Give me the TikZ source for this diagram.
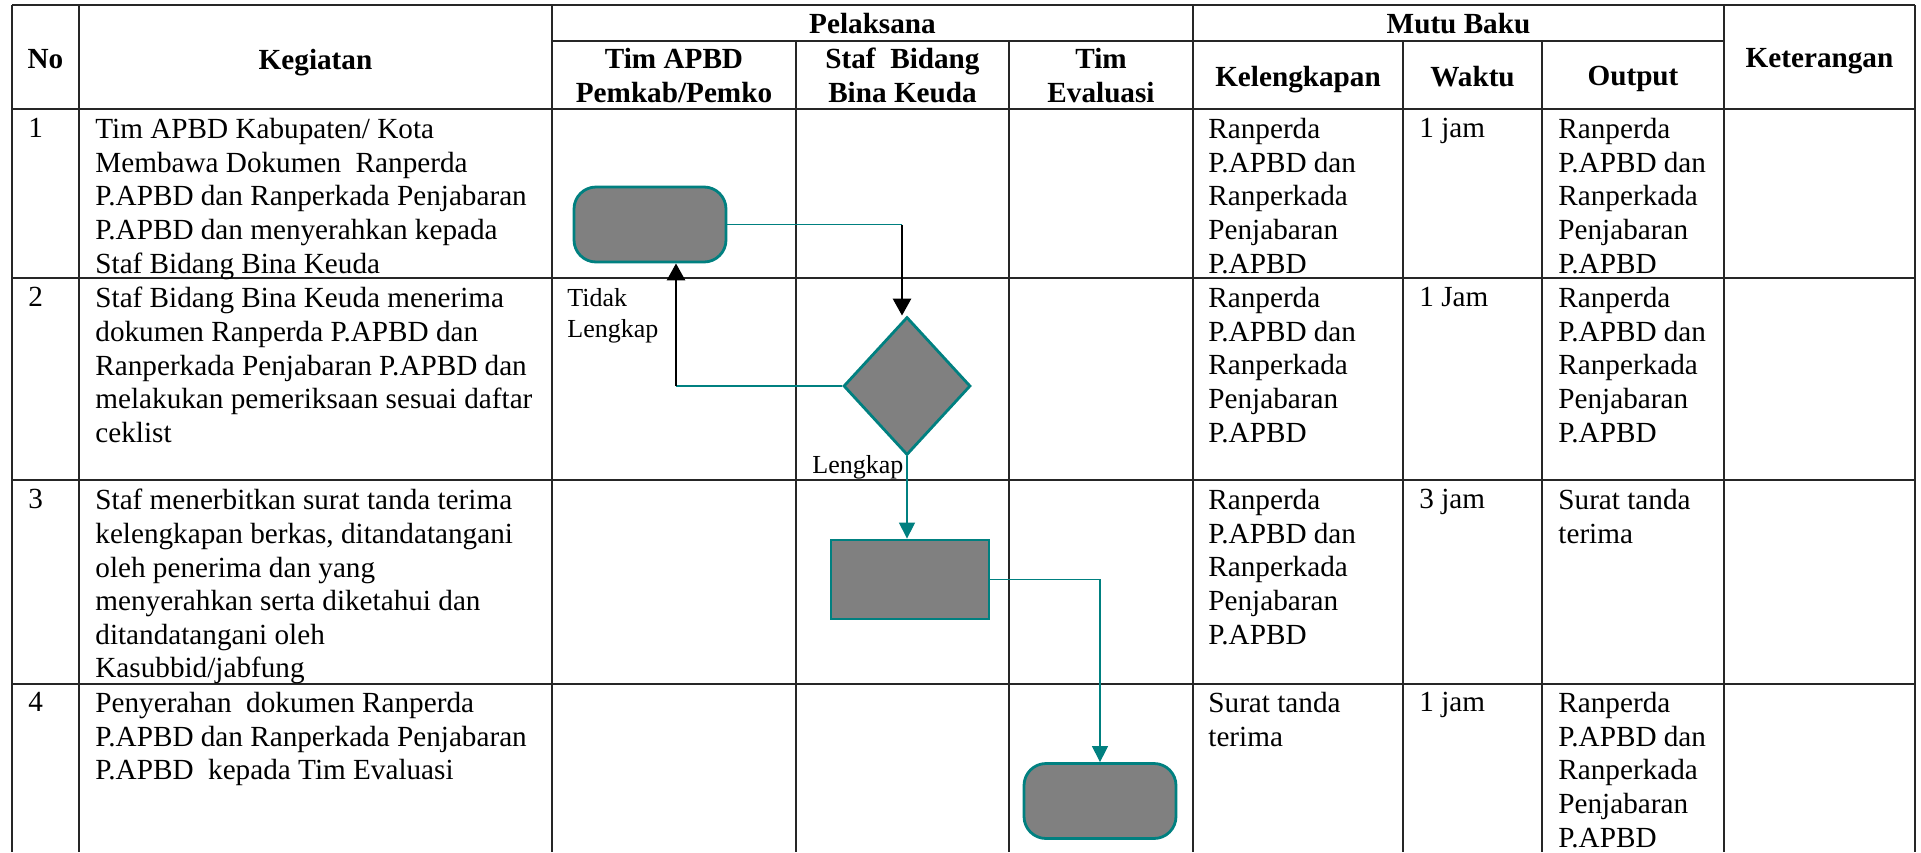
\documentclass[tikz,border=0pt]{standalone}
\usepackage{fontspec}
\setmainfont{Liberation Serif}
\usetikzlibrary{arrows.meta,shapes.geometric,positioning}

\newcommand{\cellfont}{\fontsize{14.6}{16.8}\selectfont}
\newcommand{\headfont}{\fontsize{14.6}{17}\selectfont\bfseries}
\newcommand{\notefont}{\fontsize{13}{15.5}\selectfont}

\begin{document}
\begin{tikzpicture}[x=0.5pt, y=-0.5pt,
    tabline/.style={black!85, line width=1pt},
    cell/.style={anchor=north west, align=left, inner sep=0pt, font=\cellfont},
    head/.style={anchor=north, align=center, inner sep=0pt, font=\headfont},
    note/.style={anchor=north west, align=left, inner sep=0pt, font=\notefont},
    terminal/.style={draw=teal, line width=1.4pt, fill=gray, rounded corners=11pt,
      minimum width=76pt, minimum height=37.5pt, inner sep=0pt},
    process/.style={draw=teal, line width=1.4pt, fill=gray,
      minimum width=79pt, minimum height=39.5pt, inner sep=0pt},
    decision/.style={diamond, draw=teal, line width=1.4pt, fill=gray,
      minimum width=63.5pt, minimum height=69pt, inner sep=0pt},
    flow/.style={teal, line width=0.6pt},
    flowarrow/.style={teal, line width=0.6pt, -{Triangle[width=8pt,length=8pt]}},
    backarrow/.style={black, line width=1.4pt, -{Triangle[width=9pt,length=8.5pt]}}]
    \fill[white] (0,0) rectangle (1921,852);
    \useasboundingbox (0,0) rectangle (1921,852);

    % Table rules
    \foreach \y in {5,109,278,480,684} \draw[tabline] (12,\y) -- (1915,\y);
    \draw[tabline] (552,41) -- (1724,41);
    \foreach \x in {12,79,552,1193,1724,1915} \draw[tabline] (\x,5) -- (\x,852);
    \foreach \x in {796,1009,1403,1542} \draw[tabline] (\x,41) -- (\x,852);

    % Header
    \node[head] (hNo)   at (45.5,49)   {No};
    \node[head] (hKeg)  at (315.5,49)  {Kegiatan};
    \node[head] (hPel)  at (872.5,13)  {Pelaksana};
    \node[head] (hTim)  at (674,48)    {Tim APBD\\Pemkab/Pemko};
    \node[head] (hStaf) at (902.5,48)  {Staf~ Bidang\\Bina Keuda};
    \node[head] (hEval) at (1101,48)   {Tim\\Evaluasi};
    \node[head] (hMutu) at (1458.5,13) {Mutu Baku};
    \node[head] (hLeng) at (1298,66)   {Kelengkapan};
    \node[head] (hWak)  at (1472.5,66) {Waktu};
    \node[head] (hOut)  at (1633,66)   {Output};
    \node[head] (hKet)  at (1819.5,48) {Keterangan};

    % Row 1
    \node[cell] (no1)  at (28,118)   {1};
    \node[cell] (keg1) at (95,118)   {Tim APBD Kabupaten/ Kota\\Membawa Dokumen~ Ranperda\\P.APBD dan Ranperkada Penjabaran\\P.APBD dan menyerahkan kepada\\Staf Bidang Bina Keuda};
    \node[cell] (kel1) at (1208,118) {Ranperda\\P.APBD dan\\Ranperkada\\Penjabaran\\P.APBD};
    \node[cell] (wak1) at (1419,118) {1 jam};
    \node[cell] (out1) at (1558,118) {Ranperda\\P.APBD dan\\Ranperkada\\Penjabaran\\P.APBD};

    % Row 2
    \node[cell] (no2)  at (28,287)   {2};
    \node[cell] (keg2) at (95,287)   {Staf Bidang Bina Keuda menerima\\dokumen Ranperda P.APBD dan\\Ranperkada Penjabaran P.APBD dan\\melakukan pemeriksaan sesuai daftar\\ceklist};
    \node[cell] (kel2) at (1208,287) {Ranperda\\P.APBD dan\\Ranperkada\\Penjabaran\\P.APBD};
    \node[cell] (wak2) at (1419,287) {1 Jam};
    \node[cell] (out2) at (1558,287) {Ranperda\\P.APBD dan\\Ranperkada\\Penjabaran\\P.APBD};

    % Row 3
    \node[cell] (no3)  at (28,489)   {3};
    \node[cell] (keg3) at (95,489)   {Staf menerbitkan surat tanda terima\\kelengkapan berkas, ditandatangani\\oleh penerima dan yang\\menyerahkan serta diketahui dan\\ditandatangani oleh\\Kasubbid/jabfung};
    \node[cell] (kel3) at (1208,489) {Ranperda\\P.APBD dan\\Ranperkada\\Penjabaran\\P.APBD};
    \node[cell] (wak3) at (1419,489) {3 jam};
    \node[cell] (out3) at (1558,489) {Surat tanda\\terima};

    % Row 4
    \node[cell] (no4)  at (28,692)   {4};
    \node[cell] (keg4) at (95,692)   {Penyerahan~ dokumen Ranperda\\P.APBD dan Ranperkada Penjabaran\\P.APBD~ kepada Tim Evaluasi};
    \node[cell] (kel4) at (1208,692) {Surat tanda\\terima};
    \node[cell] (wak4) at (1419,692) {1 jam};
    \node[cell] (out4) at (1558,692) {Ranperda\\P.APBD dan\\Ranperkada\\Penjabaran\\P.APBD};

    % Flow shapes
    \node[terminal] (mulai)       at (650,224.5) {};
    \node[decision] (periksa)     at (907,386)   {};
    \node[process]  (tandaterima) at (910,579.5) {};
    \node[terminal] (serah)       at (1100,801)  {};

    % Connectors
    \coordinate (belok1) at (902,224.5);
    \draw[flow] (mulai.east) -- (belok1);
    \draw[backarrow] (belok1) -- (belok1 |- periksa.north);
    \coordinate (belok2) at (676,386);
    \draw[flow] (periksa.west) -- (belok2);
    \draw[backarrow] (belok2) -- (belok2 |- mulai.south);
    \draw[flowarrow] (periksa.south) -- (periksa.south |- tandaterima.north);
    \draw[flowarrow] (tandaterima.east) -| (serah.north);

    % Labels
    \node[note] (tidak)   at (567,288) {Tidak\\Lengkap};
    \node[note] (lengkap) at (812,455) {Lengkap};
\end{tikzpicture}
\end{document}
